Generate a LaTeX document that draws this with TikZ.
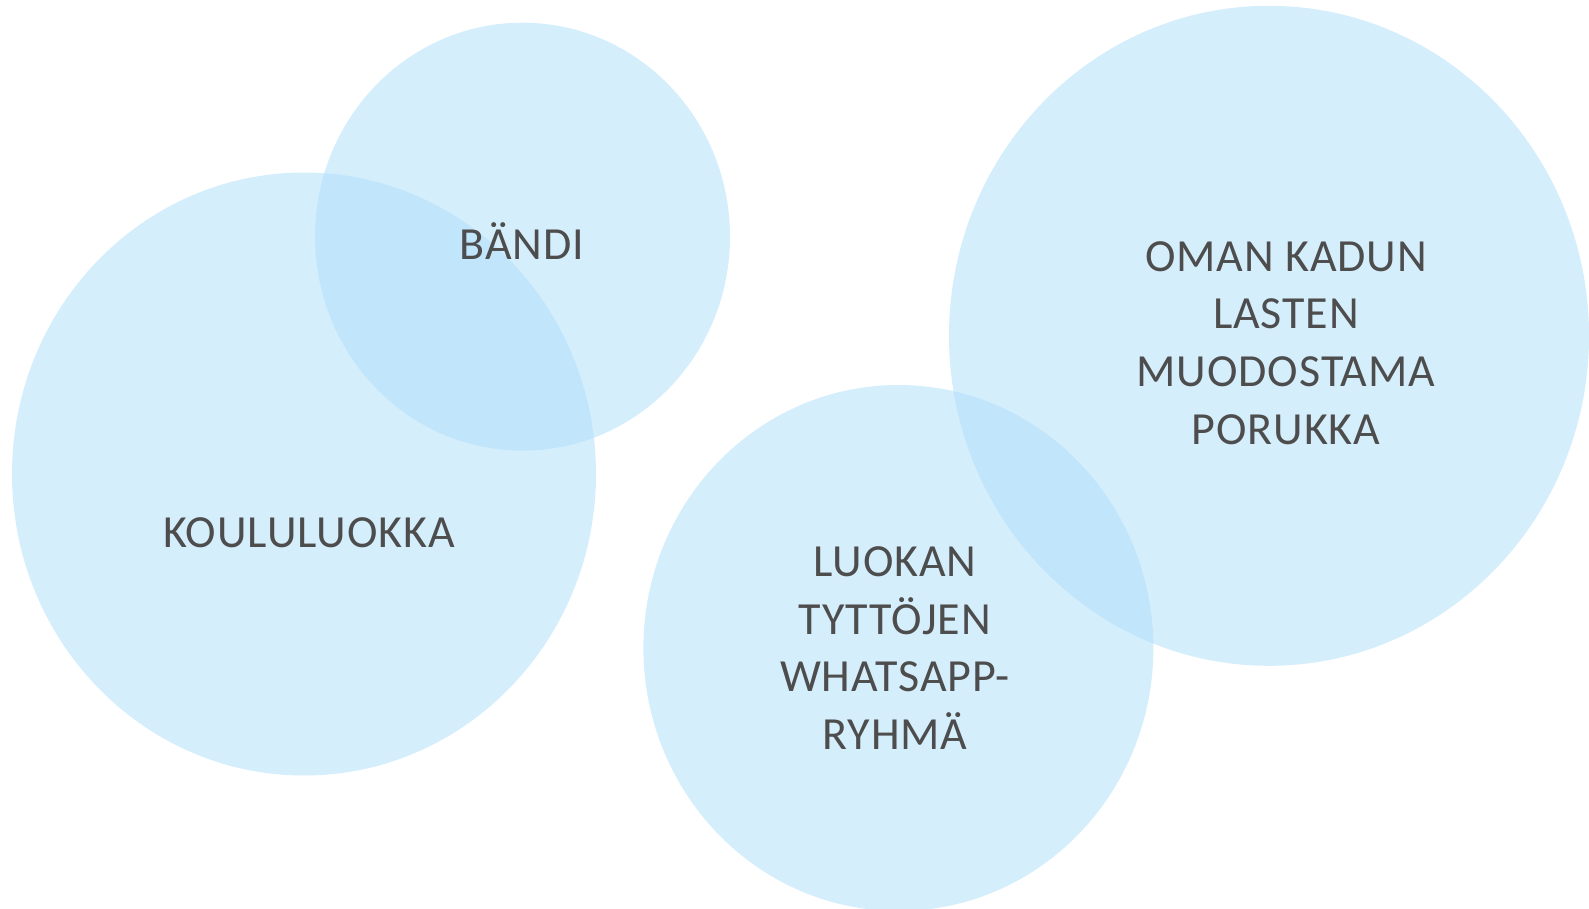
\documentclass[tikz,border=0pt]{standalone}
\usepackage{fontspec}
\setmainfont[LetterSpace=2]{Carlito}
\usetikzlibrary{shapes.geometric}
\definecolor{hellblau}{RGB}{175,222,250}
\definecolor{dunkelgrau}{RGB}{77,77,77}

\begin{document}
\begin{tikzpicture}[x=1pt, y=-1pt,
  kreis/.style={ellipse, fill=hellblau, fill opacity=0.52, inner sep=0pt},
  etikett/.style={text=dunkelgrau, align=center, inner sep=0pt,
    font=\fontsize{46}{57.8}\selectfont}]
\path[use as bounding box, clip] (0,0) rectangle (1589,909);
% kreise
\node[kreis, minimum width=584pt, minimum height=603pt] (koulu) at (304,474) {};
\node[kreis, minimum width=415pt, minimum height=428pt] (baendi) at (522.5,236.7) {};
\node[kreis, minimum width=510pt, minimum height=526pt] (luokan) at (898.4,648) {};
\node[kreis, minimum width=640pt, minimum height=660pt] (oman) at (1269,335.8) {};
% texte
\node[etikett, anchor=base] (tbaendi) at (522,259) {BÄNDI};
\node[etikett, anchor=base] (tkoulu) at (309,547) {KOULULUOKKA};
\node[etikett] (tluokan) at (895,648) {LUOKAN\\TYTTÖJEN\\WHATSAPP-\\RYHMÄ};
\node[etikett] (toman) at (1286,343) {OMAN KADUN\\LASTEN\\MUODOSTAMA\\PORUKKA};
\end{tikzpicture}
\end{document}
